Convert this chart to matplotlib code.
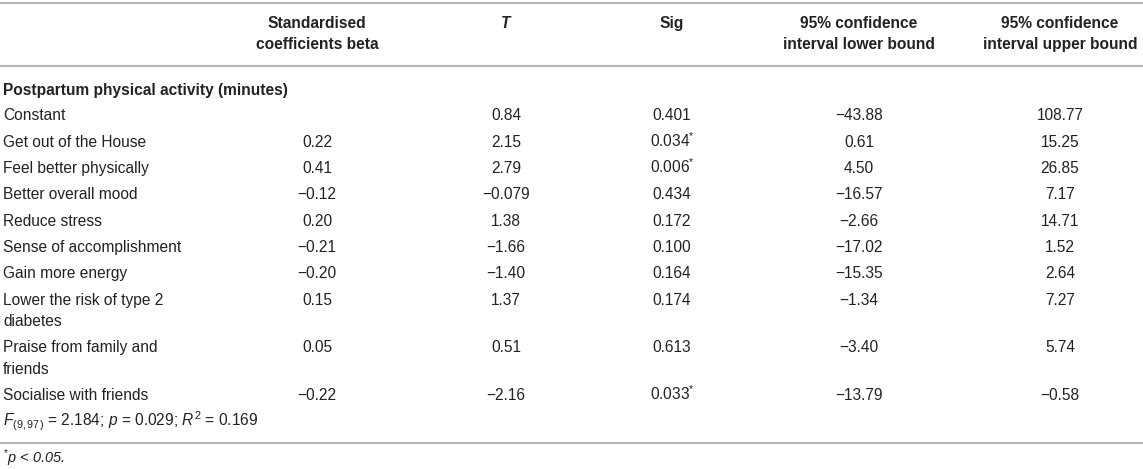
import matplotlib
matplotlib.use("Agg")
import matplotlib.pyplot as plt

plt.rcParams['font.family'] = ['Liberation Sans', 'DejaVu Sans']
plt.rcParams['mathtext.fontset'] = 'custom'
plt.rcParams['mathtext.rm'] = 'Liberation Sans'
plt.rcParams['mathtext.it'] = 'Liberation Sans:italic'
plt.rcParams['mathtext.bf'] = 'Liberation Sans:bold'

# Table content
headers = [
    ["Standardised", "coefficients beta"],
    ["T"],
    ["Sig"],
    ["95% confidence", "interval lower bound"],
    ["95% confidence", "interval upper bound"],
]
section = "Postpartum physical activity (minutes)"
labels = [
    "Constant",
    "Get out of the House",
    "Feel better physically",
    "Better overall mood",
    "Reduce stress",
    "Sense of accomplishment",
    "Gain more energy",
    "Lower the risk of type 2\ndiabetes",
    "Praise from family and\nfriends",
    "Socialise with friends",
]
beta = ["", "0.22", "0.41", "\u22120.12", "0.20", "\u22120.21", "\u22120.20", "0.15", "0.05", "\u22120.22"]
t_vals = ["0.84", "2.15", "2.79", "\u22120.079", "1.38", "\u22121.66", "\u22121.40", "1.37", "0.51", "\u22122.16"]
sig = ["0.401", "0.034*", "0.006*", "0.434", "0.172", "0.100", "0.164", "0.174", "0.613", "0.033*"]
ci_low = ["\u221243.88", "0.61", "4.50", "\u221216.57", "\u22122.66", "\u221217.02", "\u221215.35", "\u22121.34", "\u22123.40", "\u221213.79"]
ci_up = ["108.77", "15.25", "26.85", "7.17", "14.71", "1.52", "2.64", "7.27", "5.74", "\u22120.58"]
model_fit = r"$\mathit{F}_{(9,97)}$ = 2.184; $\mathit{p}$ = 0.029; $\mathit{R}^2$ = 0.169"
footnote = r"$^{*}$p < 0.05."

W, H = 1143, 469
fig = plt.figure(figsize=(W / 100, H / 100), dpi=100)
ax = fig.add_axes([0, 0, 1, 1])
ax.set_xlim(0, W)
ax.set_ylim(H, 0)
ax.axis('off')

txt = '#222222'
line_c = '#b4b4b4'
fs = 11.2
base = 5.4  # baseline offset from line centre (px)

col_x = [317, 506, 672, 859, 1060]
label_x = 3

def put(x, y, s, ha='center', **kw):
    ax.text(x, y + base, s, ha=ha, va='baseline', fontsize=fs, color=txt, **kw)

# rules
for y in [3, 66, 443]:
    ax.plot([0, W], [y, y], color=line_c, lw=1.5, solid_capstyle='butt')

# header
for x, lines in zip(col_x, headers):
    for k, s in enumerate(lines):
        style = 'italic' if s == "T" else 'normal'
        put(x, 23 + 20.5 * k, s, fontweight='bold', style=style)

put(label_x, 90, section, ha='left', fontweight='bold')

# body rows
y = 115
step, sub = 26.3, 21.6
for i, lab in enumerate(labels):
    parts = lab.split("\n")
    for k, p in enumerate(parts):
        put(label_x, y + sub * k, p, ha='left')
    for x, col in zip(col_x, [beta, t_vals, sig, ci_low, ci_up]):
        s = col[i]
        if s.endswith("*"):
            s = s[:-1] + "$^{*}$"
        put(x, y, s)
    y += step + sub * (len(parts) - 1)

put(label_x, y, model_fit, ha='left')
ax.text(label_x, 463, footnote, ha='left', va='baseline',
        fontsize=fs * 0.93, color=txt, style='italic')

fig.savefig('out.png', dpi=100)
